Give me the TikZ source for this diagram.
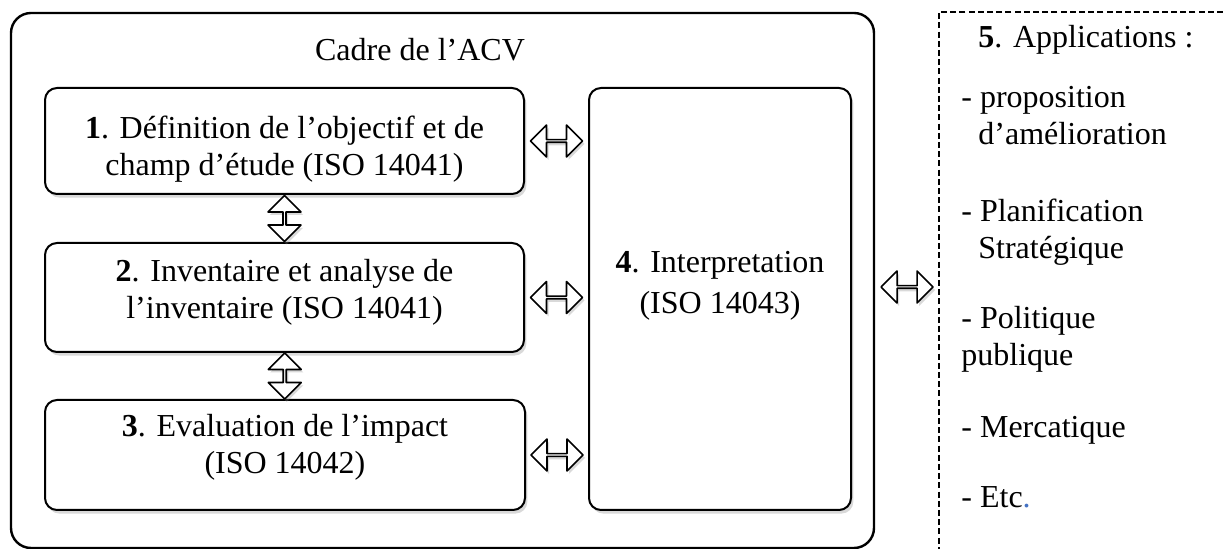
\documentclass[tikz,border=0pt]{standalone}
\usepackage{fontspec}
\setmainfont{Liberation Serif}
\usetikzlibrary{positioning,calc,shapes.arrows,shadows}
\definecolor{bleuword}{RGB}{68,114,196}
\tikzset{
  txt/.style={font=\fontsize{16}{18.5}\selectfont,align=center},
  etape/.style={draw,line width=1pt,rounded corners=6pt,fill=white,inner sep=0pt,
                drop shadow={shadow xshift=1.2pt,shadow yshift=-1.8pt,opacity=0.3}},
  hfl/.style={double arrow,draw,line width=0.8pt,fill=white,inner sep=0pt,
              minimum height=26pt,minimum width=16pt,double arrow head extend=4.5pt,
              drop shadow={shadow xshift=1pt,shadow yshift=-1.5pt,opacity=0.3}},
  vfl/.style={hfl,shape border rotate=90,minimum height=23pt,minimum width=16.5pt,
              double arrow head extend=4pt},
  every picture/.style={line cap=round,line join=round}}

\begin{document}
\begin{tikzpicture}[x=0.5pt,y=-0.5pt]
  \useasboundingbox (0,0) rectangle (1223,549);
  % cadre de l'ACV
  \node[draw,line width=1.2pt,rounded corners=10pt,minimum width=431.5pt,
        minimum height=267.5pt] (cadre) at (442.5,280.5){};
  \node[txt] (titre) at (420,50){Cadre de l’ACV};
  \node[etape,minimum width=239.5pt,minimum height=53pt] (b1) at (284.5,141){};
  \node[etape,minimum width=239.5pt,minimum height=54.5pt] (b2) at (284.5,297.5){};
  \node[etape,minimum width=240pt,minimum height=55pt] (b3) at (285,455){};
  \node[etape,minimum width=131pt,minimum height=211pt] (b4) at (720,299){};
  \node[txt] (t1) at (284.5,149){\textbf{1}. Définition de l’objectif et de\\champ d’étude (ISO 14041)};
  \node[txt] (t2) at (284.5,292){\textbf{2}. Inventaire et analyse de\\l’inventaire (ISO 14041)};
  \node[txt] (t3) at (285,447){\textbf{3}. Evaluation de l’impact\\(ISO 14042)};
  \node[txt] (t4) at (720,286){\textbf{4}. Interpretation\\[2pt](ISO 14043)};
  % applications
  \draw[line width=0.75pt,dash pattern=on 3pt off 1.6pt,line cap=butt]
    (1223,12) -| (939,549);
  \coordinate (bord) at (939,287);
  \node[txt,align=left,anchor=base west,inner sep=0pt] (appli) at (961,508)
    {\hspace*{8.5pt}\textbf{5}. Applications :\\[11.5pt]
     - proposition\\
     \hspace*{8.5pt}d’amélioration\\[20pt]
     - Planification\\
     \hspace*{8.5pt}Stratégique\\[16.5pt]
     - Politique\\
     publique\\[17.5pt]
     - Mercatique\\[16.5pt]
     - Etc{\color{bleuword}.}};
  % fleches
  \node[hfl] (f14) at ($(b1.east)!0.5!(b4.west |- b1.east)$){};
  \node[hfl] (f24) at ($(b2.east)!0.5!(b4.west |- b2.east)$){};
  \node[hfl] (f34) at ($(b3.east)!0.5!(b4.west |- b3.east)$){};
  \node[vfl] (f12) at ($(b1.south)!0.5!(b2.north)$){};
  \node[vfl] (f23) at ($(b2.south)!0.5!(b3.north)$){};
  \node[hfl] (f45) at ($(cadre.east |- bord)!0.5!(bord)$){};
\end{tikzpicture}
\end{document}
